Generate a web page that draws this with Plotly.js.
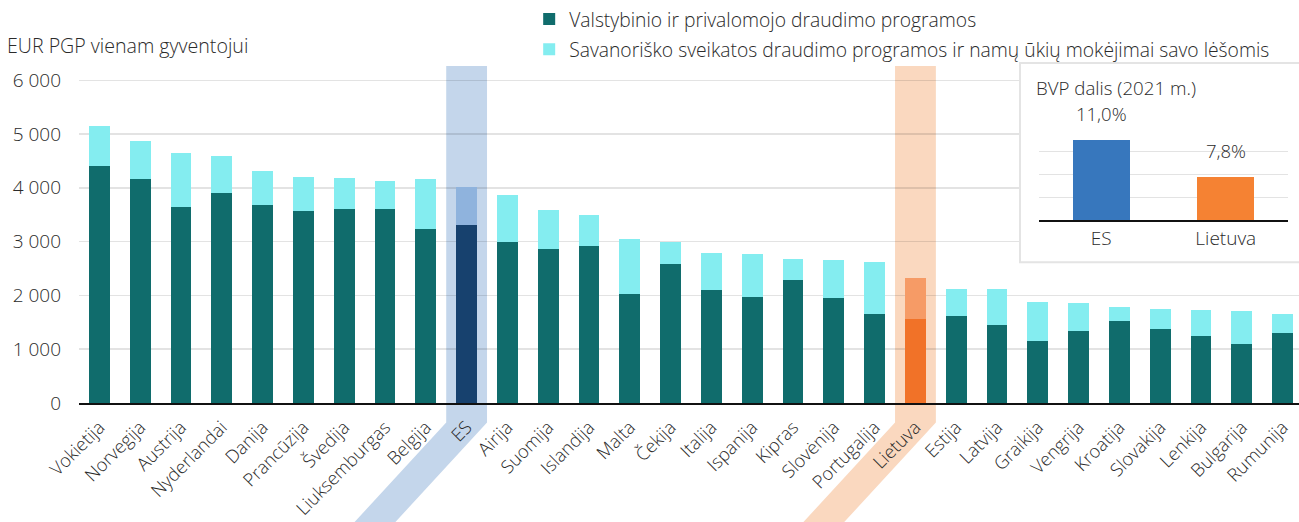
<!DOCTYPE html>
<html>
<head>
<meta charset="utf-8">
<script src="https://cdn.plot.ly/plotly-3.0.1.min.js"></script>
<style>html,body{margin:0;padding:0;background:#fff}#chart{width:1299px;height:522px}</style>
</head>
<body>
<div id="chart"></div>
<script>
// ---- data ----
var countries = ["Vokietija","Norvegija","Austrija","Nyderlandai","Danija","Prancūzija","Švedija","Liuksemburgas","Belgija","ES","Airija","Suomija","Islandija","Malta","Čekija","Italija","Ispanija","Kipras","Slovėnija","Portugalija","Lietuva","Estija","Latvija","Graikija","Vengrija","Kroatija","Slovakija","Lenkija","Bulgarija","Rumunija"];
var publicSchemes = [4407,4172,3648,3900,3672,3561,3604,3598,3228,3302,2987,2857,2913,2024,2580,2098,1974,2283,1956,1654,1561,1620,1456,1159,1344,1519,1382,1246,1098,1296];
var voluntaryOOP = [747,704,1006,698,648,643,587,532,939,722,889,723,587,1024,413,698,791,402,704,976,759,500,655,711,513,264,364,482,611,364];
var seriesNames = ["Valstybinio ir privalomojo draudimo programos","Savanoriško sveikatos draudimo programos ir namų ūkių mokėjimai savo lėšomis"];
var insetCats = ["ES","Lietuva"];
var insetVals = [11.0, 7.8];
var insetTitle = "BVP dalis (2021 m.)";
var yTitle = "EUR PGP vienam gyventojui";
var yTicks = [0,1000,2000,3000,4000,5000,6000];

// ---- styles ----
var darkTeal = "#106c6c", lightCyan = "#84edf0";
var hl = {"ES": {dark:"#17416e", light:"#8fb3dd", band:"#c4d6eb"},
          "Lietuva": {dark:"#f17228", light:"#f69b66", band:"#fad8bf"}};
var insetColors = ["#3777bd", "#f58233"];
var FONT = "Open Sans, Noto Sans, sans-serif";
var TXT = "#2b2b2b";

var idx = countries.map(function(c,i){return i;});
var darkColors = countries.map(function(c){return hl[c] ? hl[c].dark : darkTeal;});
var lightColors = countries.map(function(c){return hl[c] ? hl[c].light : lightCyan;});

var traces = [
  {type:"bar", x:idx, y:publicSchemes, name:seriesNames[0], width:0.51, legendgroup:"a",
   marker:{color:darkColors, line:{width:0}}, hoverinfo:"y"},
  {type:"bar", x:idx, y:voluntaryOOP, name:seriesNames[1], width:0.51, legendgroup:"b",
   marker:{color:lightColors, line:{width:0}}, hoverinfo:"y"},
  {type:"scatter", x:[], y:[], xaxis:"x2", yaxis:"y2", showlegend:false, hoverinfo:"skip"},
  {type:"bar", x:insetCats, y:insetVals, xaxis:"x3", yaxis:"y3", width:0.46, showlegend:false,
   marker:{color:insetColors}, hoverinfo:"y"}
];

// highlight bands (vertical strip + slanted part following the rotated labels)
var shapes = [];
var yBend = -0.058, yBot = -0.38, slant = 2.45;
countries.forEach(function(c,i){
  if(!hl[c]) return;
  var a = i-0.5, b = i+0.5;
  shapes.push({type:"path", xref:"x", yref:"paper", layer:"below", line:{width:0},
    fillcolor:hl[c].band,
    path:"M"+a+",1 L"+b+",1 L"+b+","+yBend+" L"+(b-slant)+","+yBot+" L"+(a-slant)+","+yBot+" L"+a+","+yBend+" Z"});
});
// inset frame
shapes.push({type:"rect", xref:"paper", yref:"paper", x0:0.7713, x1:1.02, y0:0.418, y1:1.009,
  line:{color:"#e4e4e4", width:2}, fillcolor:"rgba(0,0,0,0)", layer:"above"});

var annotations = [
  {xref:"paper", yref:"paper", x:-0.0605, y:1.06, xanchor:"left", yanchor:"middle", showarrow:false,
   text:yTitle, font:{size:19.6, color:TXT, family:FONT, weight:300}},
  {xref:"paper", yref:"paper", x:0.7828, y:0.935, xanchor:"left", yanchor:"middle", showarrow:false,
   text:insetTitle, font:{size:18.7, color:TXT, family:FONT, weight:300}}
];
insetCats.forEach(function(c,i){
  annotations.push({xref:"x3", yref:"y3", x:c, y:insetVals[i], yanchor:"bottom", yshift:12, showarrow:false,
    text:insetVals[i].toFixed(1).replace(".", ",")+"%", font:{size:18.5, color:TXT, family:FONT, weight:300}});
});

var layout = {
  width:1299, height:522,
  margin:{l:79, r:0, t:65, b:119},
  paper_bgcolor:"#fff", plot_bgcolor:"#fff",
  font:{family:FONT, color:TXT, size:18, weight:300},
  separators:", ",
  barmode:"stack",
  showlegend:true,
  legend:{x:0.369, y:1.195, xanchor:"left", yanchor:"top", orientation:"v", traceorder:"grouped",
          font:{size:19.3, color:TXT, family:FONT, weight:300}, bgcolor:"rgba(0,0,0,0)", tracegroupgap:2, itemwidth:30},
  xaxis:{range:[-0.5,29.4], tickmode:"array", tickvals:idx, ticktext:countries, tickangle:-45,
         tickfont:{size:18.2, color:TXT, weight:300}, showline:true, linecolor:"#111", linewidth:1.5,
         showgrid:false, zeroline:false, ticks:"", ticklabelstandoff:5, fixedrange:true},
  yaxis:{range:[0,6265], tickmode:"array", tickvals:yTicks, tickformat:",d",
         tickfont:{size:19, color:TXT, weight:300}, gridcolor:"rgba(0,0,0,0.11)", gridwidth:1.5,
         zeroline:false, showline:false, ticks:"", ticklabelstandoff:17, fixedrange:true},
  xaxis2:{domain:[0.7713,1], anchor:"y2", visible:false, range:[0,1]},
  yaxis2:{domain:[0.418,1], anchor:"x2", visible:false, range:[0,1]},
  xaxis3:{domain:[0.7869,0.991], anchor:"y3", showline:true, linecolor:"#111", linewidth:1.5,
          ticks:"", tickfont:{size:19, color:TXT, weight:300}, showgrid:false, fixedrange:true},
  yaxis3:{domain:[0.5423,0.8133], anchor:"x3", range:[4,12], dtick:2, showticklabels:false,
          gridcolor:"rgba(0,0,0,0.11)", gridwidth:1.5, zeroline:false, fixedrange:true},
  shapes:shapes,
  annotations:annotations
};

Plotly.newPlot("chart", traces, layout, {displayModeBar:false, staticPlot:true});
</script>
</body>
</html>
